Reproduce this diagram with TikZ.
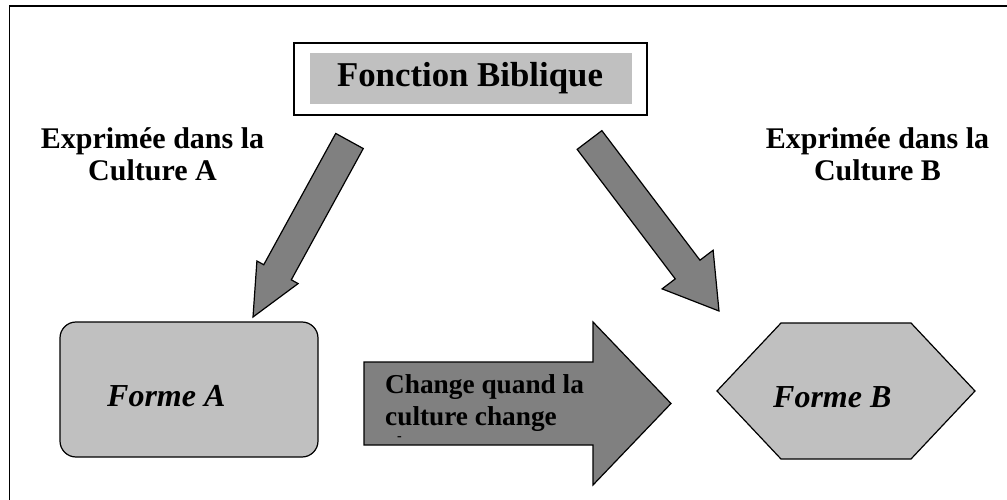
\documentclass[tikz,border=0pt]{standalone}
\usepackage{fontspec}
\setmainfont{Liberation Serif}
\usetikzlibrary{calc}
\definecolor{silver}{HTML}{C0C0C0}
\definecolor{arrowgray}{HTML}{808080}
\tikzset{
  framebox/.style={draw=black, line width=1.5pt},
  titlebox/.style={draw=black, line width=1.6pt, fill=white, inner sep=0pt},
  titlefill/.style={fill=silver, inner sep=0pt},
  formbox/.style={draw=black, fill=silver, line width=1.2pt, line join=miter},
  blockarrow/.style={draw=black, fill=arrowgray, line width=1.2pt, line join=miter},
  lbl/.style={inner sep=0pt, font=\fontsize{30}{35}\selectfont\bfseries},
  formlbl/.style={inner sep=0pt, font=\fontsize{32}{38}\selectfont\bfseries\itshape},
  arrowlbl/.style={inner sep=0pt, font=\fontsize{27.3}{32}\selectfont\bfseries},
}
% block arrow from coordinate #1 to coordinate #2: shaft half width #3, head half width #4, head length #5
\newcommand\blkarrow[6]{%
  \coordinate (#1-h) at ($(#2)!#5!(#1)$);
  \draw[#6] ($(#1)!#3!90:(#2)$) -- ($(#1-h)!#3!90:(#2)$) -- ($(#1-h)!#4!90:(#2)$)
    -- (#2) -- ($(#1-h)!#4!-90:(#2)$) -- ($(#1-h)!#3!-90:(#2)$) -- ($(#1)!#3!-90:(#2)$) -- cycle;
}
\begin{document}
\begin{tikzpicture}[x=1pt,y=-1pt]
\useasboundingbox (0,0) rectangle (1007,500);
\clip (0,0) rectangle (1007,500);
\fill[white] (0,0) rectangle (1007,500);
% outer frame (cut by the picture's right and bottom edges)
\draw[framebox] (9.5,6) rectangle (1040,540);

% title box
\node[titlebox, minimum width=353pt, minimum height=72pt] (topbox) at (470.5,79) {};
\node[titlefill, minimum width=322pt, minimum height=51pt] (topfill) at (471,78.5) {};
\node[inner sep=0pt, anchor=base, font=\fontsize{34.8}{40}\selectfont\bfseries] (title) at (470,86.5) {Fonction Biblique};

% side labels
\node[lbl, anchor=base] (la1) at (152.5,149) {Exprimée dans la};
\node[lbl, anchor=base] (la2) at (152.5,180) {Culture A};
\node[lbl, anchor=base] (lb1) at (877.5,149) {Exprimée dans la};
\node[lbl, anchor=base] (lb2) at (877.5,180) {Culture B};

% diagonal block arrows
\coordinate (arA) at (349.5,141);
\coordinate (arAtip) at (253,317);
\blkarrow{arA}{arAtip}{15.7pt}{23.5pt}{51pt}{blockarrow}
\coordinate (arB) at (589.5,140);
\coordinate (arBtip) at (719,311);
\blkarrow{arB}{arBtip}{15.5pt}{32pt}{52pt}{blockarrow}

% Forme A
\node[formbox, rounded corners=16pt, minimum width=258pt, minimum height=135pt] (formeA) at (189,389.5) {};
\node[formlbl, anchor=base west] (formeAtxt) at (107,406) {Forme A};

% Forme B (hexagon)
\coordinate (hx1) at (717,391);
\coordinate (hx2) at (781,323);
\coordinate (hx3) at (911,323);
\coordinate (hx4) at (975,391);
\coordinate (hx5) at (911,459);
\coordinate (hx6) at (781,459);
\draw[formbox] (hx1) -- (hx2) -- (hx3) -- (hx4) -- (hx5) -- (hx6) -- cycle;
\node[formlbl, anchor=base west] (formeBtxt) at (773,407) {Forme B};

% middle block arrow
\coordinate (arM) at (364,403.5);
\coordinate (arMtip) at (671,403.5);
\blkarrow{arM}{arMtip}{41.5pt}{81.5pt}{78pt}{blockarrow}
\node[arrowlbl, anchor=base west] (mid1) at (385,393) {Change quand la};
\node[arrowlbl, anchor=base west] (mid2) at (385,425) {culture change};
\node[inner sep=0pt, font=\fontsize{14}{14}\selectfont\bfseries] (middash) at (399.5,439) {-};
\end{tikzpicture}
\end{document}
